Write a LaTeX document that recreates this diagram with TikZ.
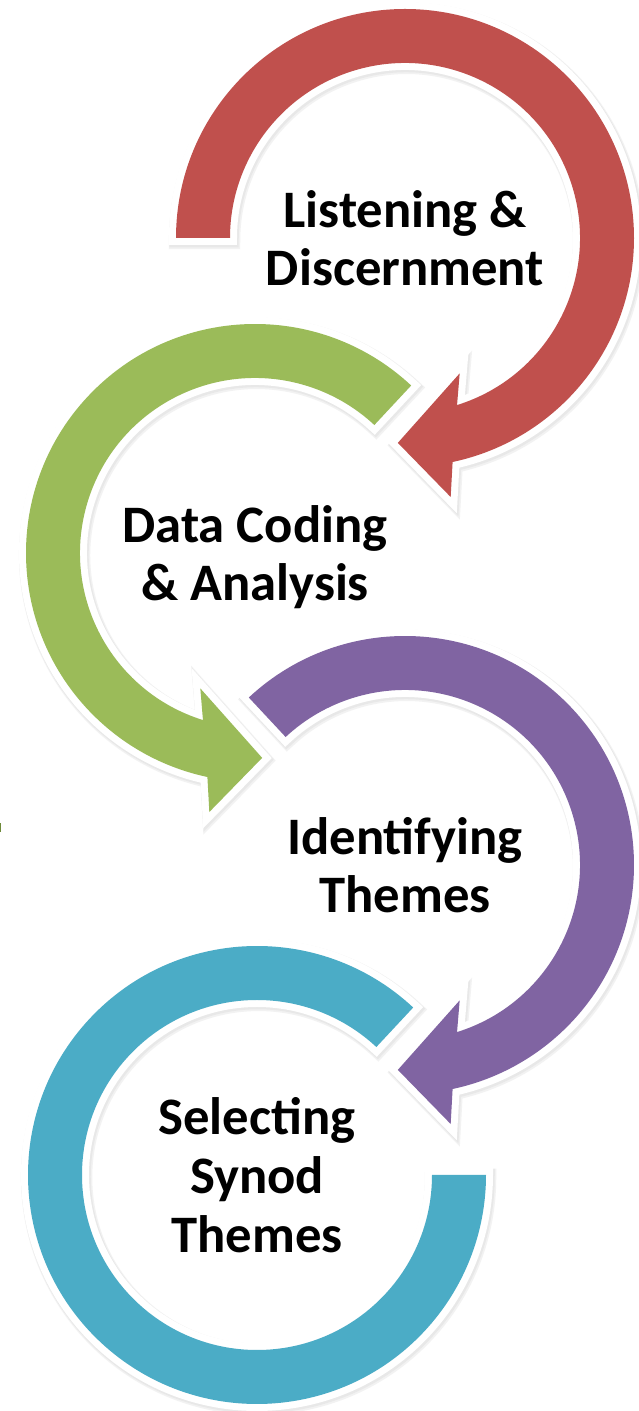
\documentclass[tikz,border=0pt]{standalone}
\usepackage{fontspec}
\setmainfont{Carlito}
\usepackage{tikz}
\usetikzlibrary{positioning}
\definecolor{ringred}{HTML}{C0504D}
\definecolor{ringgreen}{HTML}{9BBB59}
\definecolor{ringpurple}{HTML}{8064A2}
\definecolor{ringblue}{HTML}{4BACC6}
\definecolor{stray}{HTML}{6E8A3A}
\tikzset{
    %Define style for the curved arrows
    ring/.style={
           fill=#1,
           line join=round,
           preaction={draw=black!5, line width=13pt,
                      transform canvas={xshift=1.2pt, yshift=-1.8pt}},
           preaction={draw=black!9, line width=11.5pt,
                      transform canvas={xshift=0.8pt, yshift=-1.2pt}},
           preaction={draw=white, line width=10.5pt}},
    %Define style for the labels
    label/.style={
           align=center,
           text depth=0pt,
           inner sep=0pt,
           font=\bfseries\fontsize{39.5}{44}\selectfont}
}

\begin{document}
\begin{tikzpicture}[x=0.75pt,y=0.75pt]
\fill[white] (0,0) rectangle (639,1411);
\useasboundingbox (0,0) rectangle (639,1411);

\coordinate (c1) at (405,1173);
\coordinate (c2) at (255,858);
\coordinate (c3) at (405,546);
\coordinate (c4) at (257,236);

% red arrow
\path[ring=ringred, shift={(c1)}] (180:229) arc[start angle=180, end angle=-78, radius=229]
  -- (-80:263) -- (-92:205) -- (-68:146) -- (-72.7:175) arc[start angle=-72.7, end angle=180, radius=175] -- cycle;
% green arrow
\path[ring=ringgreen, shift={(c2)}] (47:229) arc[start angle=47, end angle=258, radius=229]
  -- (260:263) -- (272:205) -- (248:146) -- (252.7:175) arc[start angle=252.7, end angle=47, radius=175] -- cycle;
% purple arrow
\path[ring=ringpurple, shift={(c3)}] (133:229) arc[start angle=133, end angle=-78, radius=229]
  -- (-80:263) -- (-92:205) -- (-68:146) -- (-72.7:175) arc[start angle=-72.7, end angle=133, radius=175] -- cycle;
% blue ring
\path[ring=ringblue, shift={(c4)}] (47:229) arc[start angle=47, end angle=360, radius=229]
  -- (0:175) arc[start angle=360, end angle=47, radius=175] -- cycle;

\fill[stray] (0,579) rectangle (1.5,588);

\node[label] (listening) at (c1) {Listening \&\\Discernment};
\node[label] (coding) at (c2) {Data Coding\\\& Analysis};
\node[label] (themes) at (c3) {Identifying\\Themes};
\node[label] (synod) at (c4) {Selecting\\Synod\\Themes};

\end{tikzpicture}
\end{document}
